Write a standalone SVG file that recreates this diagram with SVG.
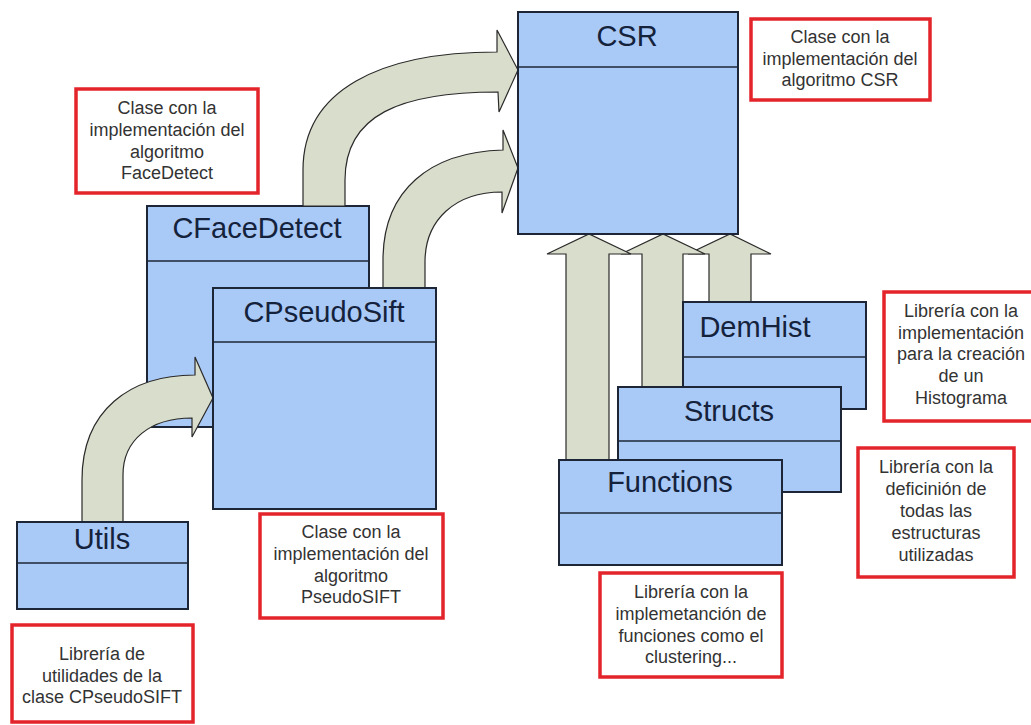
<svg xmlns="http://www.w3.org/2000/svg" width="1031" height="725" viewBox="0 0 1031 725">
<style>
.box{fill:#A9C9F6;stroke:#1C2636;stroke-width:2}
.div{stroke:#1C2636;stroke-width:1.6}
.title{font-family:"Liberation Sans",Arial,sans-serif;font-size:29px;fill:#14223C;text-anchor:middle}
.note{fill:#FFFFFF;stroke:#E3242B;stroke-width:3.5}
.nt{font-family:"Liberation Sans",Arial,sans-serif;font-size:18px;fill:#333333;text-anchor:middle}
.arr{fill:#D9DDCB;stroke:#2A2A2A;stroke-width:1.2;stroke-linejoin:miter}
</style>
<rect width="1031" height="725" fill="#FFFFFF"/>
<g id="node-cfacedetect">
<rect class="box" x="147" y="206" width="222" height="221"/>
<line class="div" x1="147" y1="261" x2="369" y2="261"/>
<text class="title" x="257" y="238">CFaceDetect</text>
</g>
<g id="connectors">
<path class="arr" d="M 709,302 L 709,254 L 688,254 L 730,234 L 771,254 L 751,254 L 751,302 Z"/>
<path class="arr" d="M 642,387 L 642,254 L 621,254 L 663,234 L 705,254 L 683,254 L 683,387 Z"/>
<path class="arr" d="M 566,460 L 566,254 L 547,254 L 589,234 L 631,254 L 609,254 L 609,460 Z"/>
<path class="arr" d="M 303,206 L 303,170 C 303,90 380,52 497,52 L 497,30 L 518,70 L 499,112 L 498,92 C 400,92 345,115 345,180 L 345,206 Z"/>
<path class="arr" d="M 383,288 L 383,260 C 383,190 430,152 503,150 L 503,130 L 518,168 L 502,213 L 502,192 C 455,192 425,220 425,262 L 425,288 Z"/>
<path class="arr" d="M 82,522 L 82,480 C 82,410 130,375 195,375 L 195,357 L 213,398 L 192,437 L 192,418 C 150,418 123,440 123,475 L 123,522 Z"/>
</g>
<g id="node-cpseudosift">
<rect class="box" x="213" y="288" width="223" height="221"/>
<line class="div" x1="213" y1="342" x2="436" y2="342"/>
<text class="title" x="324" y="322">CPseudoSift</text>
</g>
<g id="node-csr">
<rect class="box" x="518" y="12" width="220" height="222"/>
<line class="div" x1="518" y1="67" x2="738" y2="67"/>
<text class="title" x="627" y="46">CSR</text>
</g>
<g id="node-utils">
<rect class="box" x="17" y="522" width="171" height="87"/>
<line class="div" x1="17" y1="563" x2="188" y2="563"/>
<text class="title" x="102" y="549">Utils</text>
</g>
<g id="node-demhist">
<rect class="box" x="683" y="302" width="183" height="107"/>
<line class="div" x1="683" y1="357" x2="866" y2="357"/>
<text class="title" x="755" y="337">DemHist</text>
</g>
<g id="node-structs">
<rect class="box" x="618" y="387" width="223" height="105"/>
<line class="div" x1="618" y1="441" x2="841" y2="441"/>
<text class="title" x="729" y="421">Structs</text>
</g>
<g id="node-functions">
<rect class="box" x="559" y="460" width="223" height="105"/>
<line class="div" x1="559" y1="513" x2="782" y2="513"/>
<text class="title" x="670" y="492">Functions</text>
</g>
<g id="note-facedetect">
<rect class="note" x="76" y="89" width="182" height="104"/>
<text class="nt" x="167" y="114">Clase con la</text>
<text class="nt" x="167" y="136">implementación del</text>
<text class="nt" x="167" y="158">algoritmo</text>
<text class="nt" x="167" y="179">FaceDetect</text>
</g>
<g id="note-csr">
<rect class="note" x="751" y="19" width="179" height="81"/>
<text class="nt" x="840" y="43">Clase con la</text>
<text class="nt" x="840" y="65">implementación del</text>
<text class="nt" x="840" y="86">algoritmo CSR</text>
</g>
<g id="note-demhist">
<rect class="note" x="884" y="292" width="150" height="129"/>
<text class="nt" x="961" y="317">Librería con la</text>
<text class="nt" x="961" y="339">implementación</text>
<text class="nt" x="961" y="360">para la creación</text>
<text class="nt" x="961" y="382">de un</text>
<text class="nt" x="961" y="404">Histograma</text>
</g>
<g id="note-structs">
<rect class="note" x="858" y="448" width="156" height="129"/>
<text class="nt" x="936" y="473">Librería con la</text>
<text class="nt" x="936" y="495">deficinión de</text>
<text class="nt" x="936" y="517">todas las</text>
<text class="nt" x="936" y="539">estructuras</text>
<text class="nt" x="936" y="561">utilizadas</text>
</g>
<g id="note-functions">
<rect class="note" x="600" y="573" width="182" height="104"/>
<text class="nt" x="691" y="598">Librería con la</text>
<text class="nt" x="691" y="620">implemetanción de</text>
<text class="nt" x="691" y="642">funciones como el</text>
<text class="nt" x="691" y="663">clustering...</text>
</g>
<g id="note-pseudosift">
<rect class="note" x="260" y="514" width="183" height="104"/>
<text class="nt" x="351" y="538">Clase con la</text>
<text class="nt" x="351" y="560">implementación del</text>
<text class="nt" x="351" y="582">algoritmo</text>
<text class="nt" x="351" y="603">PseudoSIFT</text>
</g>
<g id="note-utils">
<rect class="note" x="12" y="625" width="181" height="97"/>
<text class="nt" x="102" y="660">Librería de</text>
<text class="nt" x="102" y="682">utilidades de la</text>
<text class="nt" x="102" y="703">clase CPseudoSIFT</text>
</g>
</svg>
